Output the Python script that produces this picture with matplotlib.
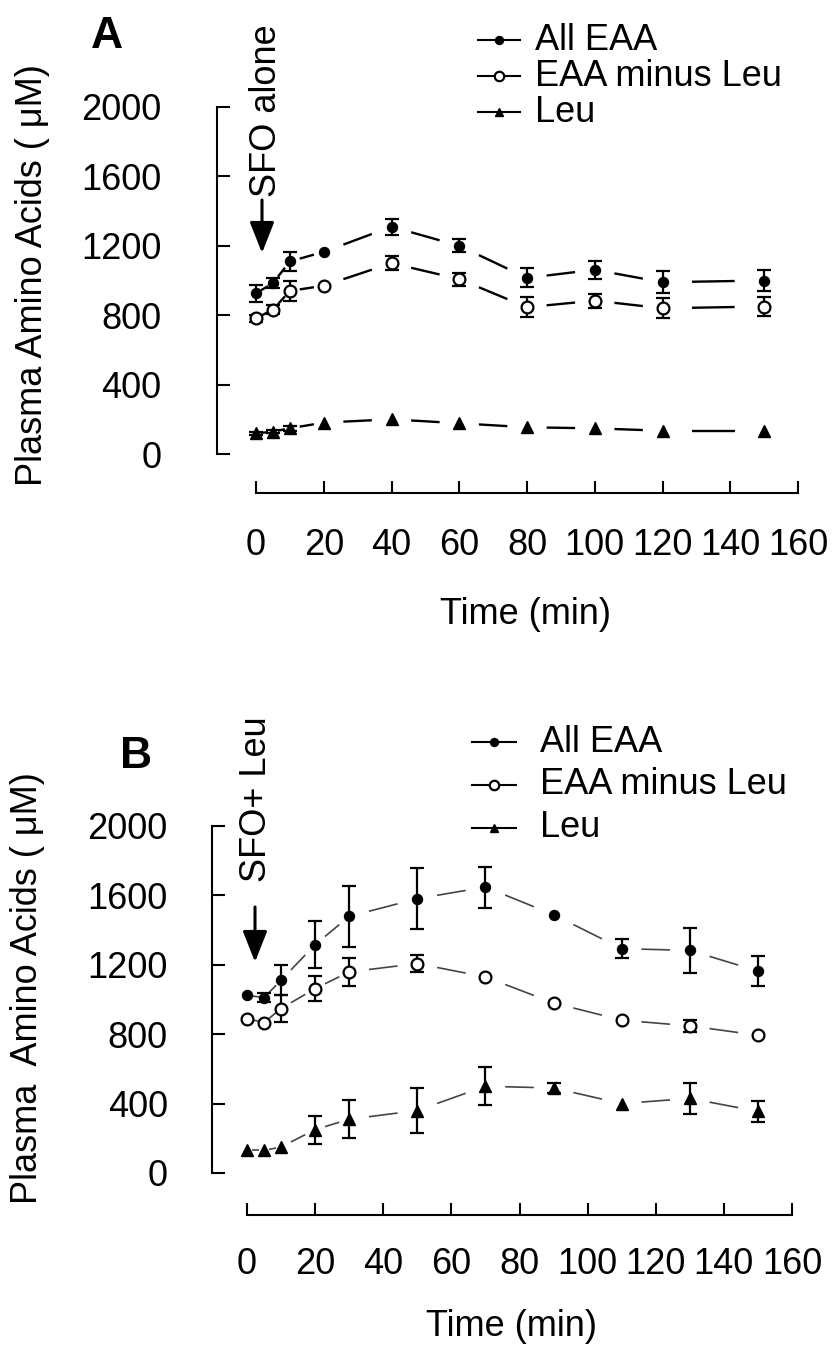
import numpy as np
import matplotlib
matplotlib.use("Agg")
import matplotlib.pyplot as plt
from matplotlib.lines import Line2D
from matplotlib.collections import LineCollection

plt.rcParams['font.family'] = ['Liberation Sans', 'DejaVu Sans']

# ---------------- data ----------------
tA = [0, 5, 10, 20, 40, 60, 80, 100, 120, 150]
allA = [926, 985, 1110, 1165, 1310, 1200, 1015, 1062, 990, 1000]
allA_err = [50, 30, 55, 0, 45, 38, 55, 52, 62, 62]
minusA = [782, 832, 940, 970, 1100, 1008, 846, 884, 840, 850]
minusA_err = [20, 25, 60, 0, 42, 38, 57, 40, 57, 56]
leuA = [119, 129, 148, 181, 200, 177, 154, 148, 134, 134]
leuA_err = [10, 10, 15, 0, 0, 0, 0, 0, 0, 0]

tB = [0, 5, 10, 20, 30, 50, 70, 90, 110, 130, 150]
allB = [1024, 1011, 1111, 1316, 1479, 1581, 1648, 1489, 1293, 1283, 1164]
allB_err = [0, 28, 86, 137, 175, 175, 118, 0, 53, 131, 86]
minusB = [890, 867, 948, 1063, 1159, 1207, 1130, 980, 881, 848, 794]
minusB_err = [0, 0, 77, 72, 79, 50, 0, 0, 0, 33, 0]
leuB = [130, 130, 150, 250, 310, 360, 500, 490, 400, 430, 355]
leuB_err = [0, 0, 0, 80, 110, 130, 110, 30, 0, 90, 60]

series_names = ["All EAA", "EAA minus Leu", "Leu"]
xticks = [0, 20, 40, 60, 80, 100, 120, 140, 160]
yticks = [0, 400, 800, 1200, 1600, 2000]

W, H = 835, 1356
FS = 26
fig = plt.figure(figsize=(W / 100, H / 100), dpi=100)


def fx(x):
    return x / W


def fy(y):
    return 1 - y / H


marker_styles = [
    dict(marker='o', markersize=7.2, markerfacecolor='black', markeredgecolor='black'),
    dict(marker='o', markersize=8.5, markerfacecolor='white', markeredgecolor='black', markeredgewidth=1.6),
    dict(marker='^', markersize=8.0, markerfacecolor='black', markeredgecolor='black'),
]


def draw_series(ax, t, v, err, style, lcolor, lw, gap=0.29):
    t = np.asarray(t, float)
    v = np.asarray(v, float)
    err = np.asarray(err, float)
    dt = np.diff(t)
    dv = np.diff(v)
    x0 = t[:-1] + gap * dt
    x1 = t[:-1] + (1 - gap) * dt
    y0 = v[:-1] + gap * dv
    y1 = v[:-1] + (1 - gap) * dv
    segs = np.stack([np.stack([x0, y0], 1), np.stack([x1, y1], 1)], 1)
    lc = LineCollection(segs, colors=lcolor, linewidths=lw, zorder=2, clip_on=False)
    ax.add_collection(lc)
    m = err > 0
    if m.any():
        ax.errorbar(t[m], v[m], yerr=err[m], fmt='none', ecolor='black',
                    elinewidth=1.6, capsize=4.7, capthick=1.6, zorder=3, clip_on=False)
    ax.plot(t, v, linestyle='none', zorder=4, clip_on=False, **style)


def setup_axes(rect, left_out, bottom_out, ypad, xpad):
    ax = fig.add_axes(rect)
    ax.set_xlim(0, 160)
    ax.set_ylim(0, 2000)
    for s in ['top', 'right']:
        ax.spines[s].set_visible(False)
    ax.spines['left'].set_position(('outward', left_out))
    ax.spines['bottom'].set_position(('outward', bottom_out))
    for s in ['left', 'bottom']:
        ax.spines[s].set_linewidth(1.5)
    ax.set_xticks(xticks)
    ax.set_yticks(yticks)
    ax.tick_params(axis='y', direction='in', length=9, width=1.5, labelsize=FS, pad=ypad)
    ax.tick_params(axis='x', direction='in', length=8.6, width=1.5, labelsize=FS, pad=xpad)
    ax.patch.set_alpha(0)
    return ax


def legend(x0, x1, xt, rows):
    for (y, style, name) in zip(rows, marker_styles, series_names):
        ln = Line2D([fx(x0), fx(x1)], [fy(y), fy(y)], color='black', lw=1.5,
                    transform=fig.transFigure)
        fig.add_artist(ln)
        st = dict(style)
        st['markersize'] = st['markersize'] * 0.8
        mk = Line2D([fx((x0 + x1) / 2)], [fy(y)], linestyle='none',
                    transform=fig.transFigure, **st)
        fig.add_artist(mk)
        fig.text(fx(xt), fy(y), name, fontsize=FS, va='center', ha='left')


def arrow(x, ytop, ytip):
    fig.add_artist(matplotlib.patches.FancyArrowPatch(
        (fx(x), fy(ytop)), (fx(x), fy(ytip)), transform=fig.transFigure,
        arrowstyle='-|>,head_length=1.9,head_width=0.75', mutation_scale=10,
        lw=2.2, color='black', shrinkA=0, shrinkB=0))


# ---------------- Panel A ----------------
axA = setup_axes([fx(256), fy(454), 542 / W, 347 / H], 28, 28, 40, 25)
for t_, v_, e_, st in [(tA, allA, allA_err, marker_styles[0]),
                       (tA, minusA, minusA_err, marker_styles[1]),
                       (tA, leuA, leuA_err, marker_styles[2])]:
    draw_series(axA, t_, v_, e_, st, 'black', 1.7)

fig.text(fx(107), fy(36), "A", fontsize=32, fontweight='bold', ha='center', va='center')
fig.text(fx(33), fy(275), "Plasma Amino Acids ( \u03bcM)", fontsize=FS, rotation=90,
         ha='center', va='center')
fig.text(fx(525), fy(615), "Time (min)", fontsize=FS, ha='center', va='center')
fig.text(fx(267), fy(197), "SFO alone", fontsize=FS, rotation=90, ha='center', va='bottom')
arrow(262, 200, 253)
legend(478, 520, 535, [40, 76, 112])

# ---------------- Panel B ----------------
axB = setup_axes([fx(247), fy(1173), 545 / W, 347 / H], 25, 30, 32, 23)
for t_, v_, e_, st in [(tB, allB, allB_err, marker_styles[0]),
                       (tB, minusB, minusB_err, marker_styles[1]),
                       (tB, leuB, leuB_err, marker_styles[2])]:
    draw_series(axB, t_, v_, e_, st, '#444444', 1.2)

fig.text(fx(136), fy(757), "B", fontsize=32, fontweight='bold', ha='center', va='center')
fig.text(fx(28), fy(988), "Plasma  Amino Acids ( \u03bcM)", fontsize=FS, rotation=90,
         ha='center', va='center')
fig.text(fx(512), fy(1327), "Time (min)", fontsize=FS, ha='center', va='center')
fig.text(fx(256), fy(882), "SFO+ Leu", fontsize=FS, rotation=90, ha='center', va='bottom')
arrow(255, 907, 962)
legend(472, 516, 540, [742, 785, 828])

fig.savefig("out.png", dpi=100)
